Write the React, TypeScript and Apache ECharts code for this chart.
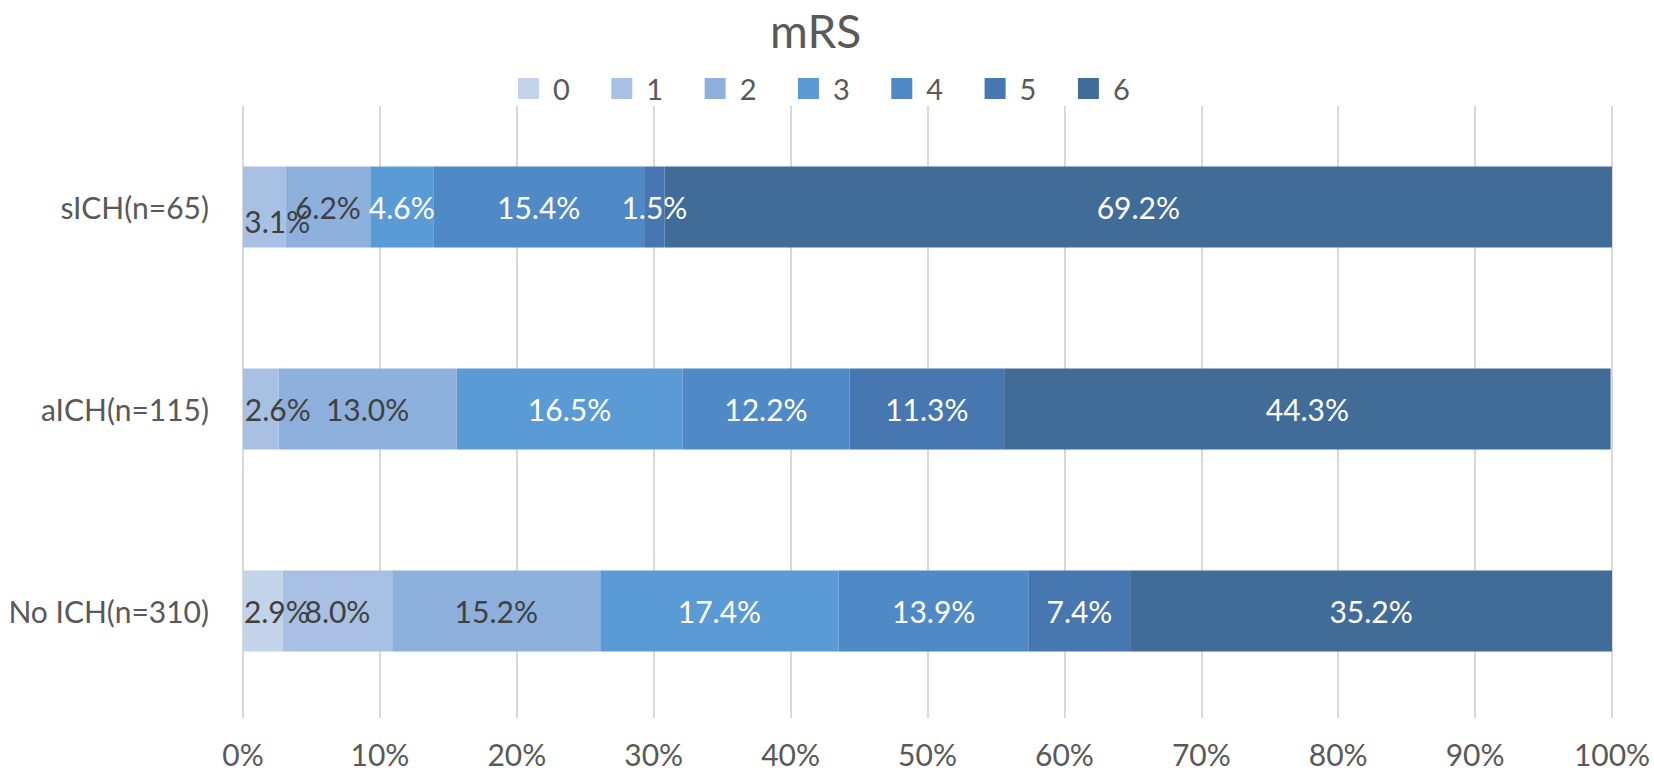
import React, { useEffect, useRef } from "react";
import * as echarts from "echarts";

const categories = ["sICH(n=65)", "aICH(n=115)", "No ICH(n=310)"];
const seriesNames = ["0", "1", "2", "3", "4", "5", "6"];
// values per mRS grade, in order of categories
const mrs0 = [0, 0, 2.9];
const mrs1 = [3.1, 2.6, 8.0];
const mrs2 = [6.2, 13.0, 15.2];
const mrs3 = [4.6, 16.5, 17.4];
const mrs4 = [15.4, 12.2, 13.9];
const mrs5 = [1.5, 11.3, 7.4];
const mrs6 = [69.2, 44.3, 35.2];
const xTicks = [0, 10, 20, 30, 40, 50, 60, 70, 80, 90, 100];

const colors = ["#c3d3ea", "#a7c0e3", "#8db0dd", "#5b9bd5", "#4f8ac6", "#4677b1", "#416c98"];
const labelColors = ["#404040", "#404040", "#404040", "#ffffff", "#ffffff", "#ffffff", "#ffffff"];
// label nudges (series index -> category index -> offset), as Excel moved them
const labelOffsets: Record<string, [number, number]> = {
  "1-0": [13, 14],
  "1-1": [17, 0],
  "0-2": [14, 0],
};

const FONT = "Lato, 'Open Sans', sans-serif";

export default function App() {
  const ref = useRef<HTMLDivElement>(null);
  useEffect(() => {
    if (!ref.current) return;
    const chart = echarts.init(ref.current, undefined, { renderer: "svg" });
    const all = [mrs0, mrs1, mrs2, mrs3, mrs4, mrs5, mrs6];
    const series = all.map((vals, si) => ({
      name: seriesNames[si],
      type: "bar",
      stack: "total",
      barCategoryGap: "60%",
      itemStyle: { color: colors[si] },
      label: {
        show: true,
        position: "inside",
        color: labelColors[si],
        fontSize: 30,
        fontFamily: FONT,
        formatter: (p: any) => (p.value > 0 ? p.value.toFixed(1) + "%" : ""),
      },
      emphasis: { disabled: true },
      data: vals.map((v, ci) => {
        const off = labelOffsets[si + "-" + ci];
        return off ? { value: v, label: { offset: off } } : v;
      }),
    }));
    chart.setOption({
      animation: false,
      textStyle: { fontFamily: FONT },
      title: {
        text: "mRS",
        left: 765,
        top: 2,
        textStyle: { fontSize: 46, fontWeight: "normal", color: "#595959", fontFamily: FONT },
      },
      legend: {
        data: seriesNames,
        left: 513,
        top: 69,
        icon: "rect",
        itemWidth: 21,
        itemHeight: 21,
        itemGap: 41.5,
        textStyle: { fontSize: 29, color: "#595959", fontFamily: FONT, padding: [0, 0, 0, 9] },
      },
      grid: { left: 243, right: 42, top: 106, bottom: 61, containLabel: false },
      xAxis: {
        type: "value",
        min: xTicks[0],
        max: xTicks[xTicks.length - 1],
        interval: 10,
        axisLabel: {
          formatter: "{value}%",
          fontSize: 30,
          color: "#595959",
          margin: 27,
          fontFamily: FONT,
        },
        axisLine: { show: false },
        axisTick: { show: true, length: 6, lineStyle: { color: "#d9d9d9", width: 2 } },
        splitLine: { show: true, lineStyle: { color: "#d9d9d9", width: 2 } },
      },
      yAxis: {
        type: "category",
        data: categories,
        inverse: true,
        axisLine: { show: false },
        axisTick: { show: false },
        axisLabel: { fontSize: 30, color: "#595959", margin: 34, fontFamily: FONT },
      },
      series,
    });
    return () => chart.dispose();
  }, []);
  return (
    <div
      ref={ref}
      style={{ position: "fixed", left: 0, top: 0, width: 1654, height: 773, background: "#fff" }}
    />
  );
}
